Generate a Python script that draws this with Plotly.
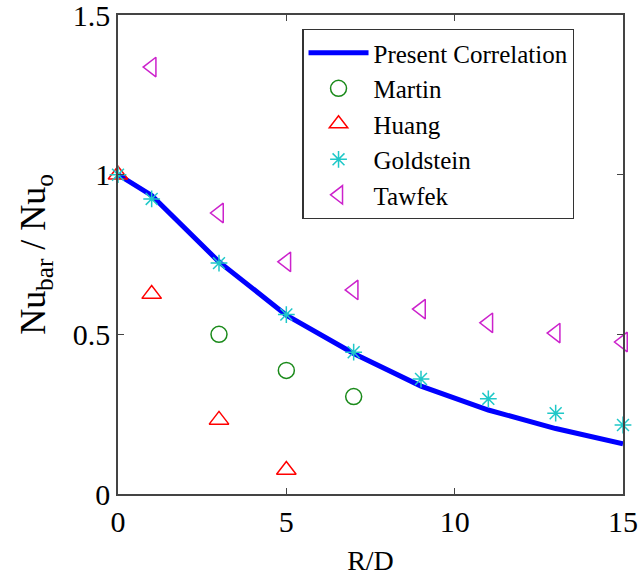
import plotly.graph_objects as go

# Data
corr_x = [0, 1, 3, 5, 7, 9, 11, 13, 15]
corr_y = [1.0, 0.935, 0.727, 0.56, 0.44, 0.338, 0.263, 0.205, 0.157]

martin_x = [3, 5, 7]
martin_y = [0.5, 0.387, 0.305]

huang_x = [0, 1, 3, 5]
huang_y = [1.0, 0.626, 0.232, 0.075]

gold_x = [0, 1, 3, 5, 7, 9, 11, 13, 15]
gold_y = [1.0, 0.924, 0.723, 0.562, 0.444, 0.36, 0.298, 0.253, 0.216]

tawfek_x = [1, 3, 5, 7, 9, 11, 13, 15]
tawfek_y = [1.337, 0.88, 0.727, 0.639, 0.579, 0.536, 0.504, 0.476]

x_ticks = [0, 5, 10, 15]
y_ticks = [0, 0.5, 1, 1.5]
y_ticklabels = ["0", "0.5", "1", "1.5"]

FONT = "Liberation Serif, Times New Roman, serif"

fig = go.Figure()
fig.add_trace(go.Scatter(x=corr_x, y=corr_y, mode="lines", name="Present Correlation",
                         line=dict(color="#0000ff", width=5), cliponaxis=False))
fig.add_trace(go.Scatter(x=martin_x, y=martin_y, mode="markers", name="Martin",
                         marker=dict(symbol="circle-open", size=16, color="#1a8a1a",
                                     line=dict(width=1.5, color="#1a8a1a")), cliponaxis=False))
fig.add_trace(go.Scatter(x=huang_x, y=huang_y, mode="markers", name="Huang",
                         marker=dict(symbol="triangle-up-open", size=17, color="#ff0000",
                                     line=dict(width=1.5, color="#ff0000")), cliponaxis=False))
fig.add_trace(go.Scatter(x=gold_x, y=gold_y, mode="markers", name="Goldstein",
                         marker=dict(symbol="asterisk-open", size=14, color="#1fc8c8",
                                     line=dict(width=1.5, color="#1fc8c8")), cliponaxis=False))
fig.add_trace(go.Scatter(x=tawfek_x, y=tawfek_y, mode="markers", name="Tawfek",
                         marker=dict(symbol="triangle-left-open", size=17, color="#cc22cc",
                                     line=dict(width=1.5, color="#cc22cc")), cliponaxis=False))

fig.update_layout(
    width=639, height=576,
    margin=dict(l=118, r=16, t=15, b=82, autoexpand=False),
    paper_bgcolor="white", plot_bgcolor="white",
    font=dict(family=FONT, size=26, color="black"),
    showlegend=True,
    legend=dict(x=0.365, y=0.971, xanchor="left", yanchor="top",
                bgcolor="white", bordercolor="#333333", borderwidth=1.2,
                font=dict(family=FONT, size=25), tracegroupgap=0,
                itemwidth=60),
    xaxis=dict(range=[0, 15], tickvals=x_ticks, ticks="inside", ticklen=6,
               showline=True, linecolor="#444444", linewidth=1.5, mirror="ticks",
               showgrid=False, zeroline=False, automargin=False,
               ticklabeloverflow="allow",
               title=dict(text="R/D", font=dict(family=FONT, size=28), standoff=14),
               tickfont=dict(family=FONT, size=30)),
    yaxis=dict(range=[0, 1.5], tickvals=y_ticks, ticktext=y_ticklabels, ticks="inside", ticklen=6,
               showline=True, linecolor="#444444", linewidth=1.5, mirror="ticks",
               showgrid=False, zeroline=False, automargin=False,
               ticklabeloverflow="allow",
               title=dict(text="Nu<sub>bar</sub> / Nu<sub>o</sub>", font=dict(family=FONT, size=36), standoff=16),
               tickfont=dict(family=FONT, size=30)),
)

fig.write_html("out.html")
